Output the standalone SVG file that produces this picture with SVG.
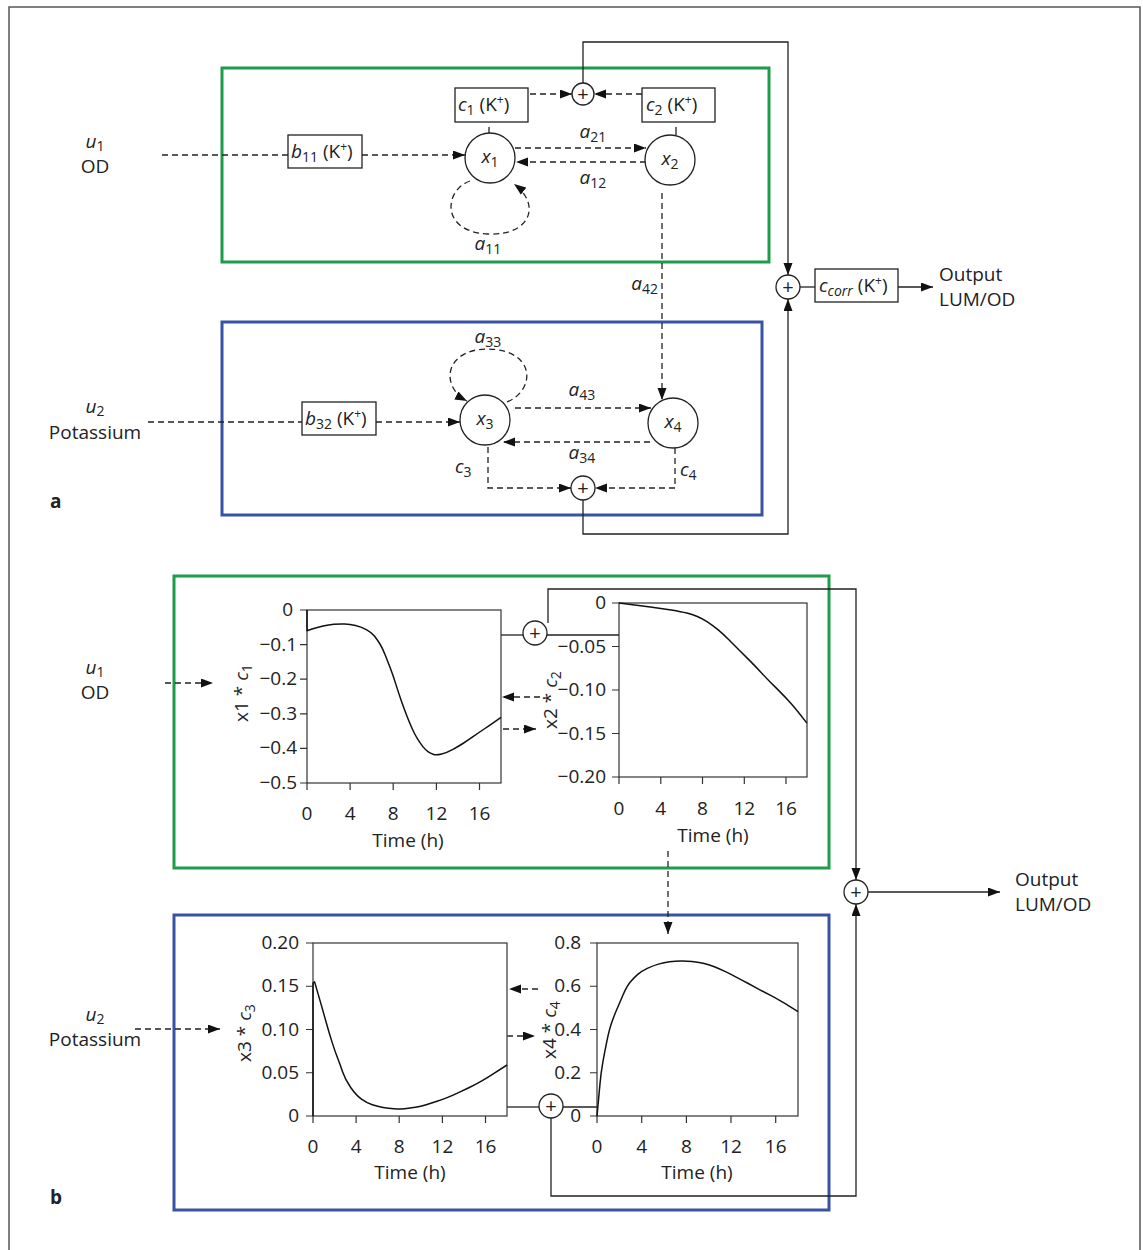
<svg xmlns="http://www.w3.org/2000/svg" width="1143" height="1250" viewBox="0 0 1143 1250">
<defs>
<marker id="ah" markerUnits="userSpaceOnUse" markerWidth="13" markerHeight="10" refX="12" refY="4.5" orient="auto">
<path d="M0,0 L12,4.5 L0,9 z" fill="#111"/>
</marker>
<style>
.t{font-family:"Open Sans","Noto Sans",sans-serif;font-size:19px;fill:#222}
.i{font-style:italic}
.s{font-size:14px}
.sup{font-size:12px}
.b{font-weight:bold}
.pl{font-size:20px}
.box{fill:#fff;stroke:#222;stroke-width:1.3}
.node{fill:#fff;stroke:#222;stroke-width:1.3}
.green{fill:none;stroke:#1e9b4b;stroke-width:3}
.blue{fill:none;stroke:#3853a4;stroke-width:3}
.dash{fill:none;stroke:#222;stroke-width:1.3;stroke-dasharray:6 4}
.solid{fill:none;stroke:#222;stroke-width:1.3}
.arr{marker-end:url(#ah)}
.ax{fill:none;stroke:#333;stroke-width:1.2}
.tk{stroke:#333;stroke-width:1.2}
.crv{fill:none;stroke:#111;stroke-width:1.5;stroke-linejoin:round}
.frame{fill:none;stroke:#555;stroke-width:1.5}
</style>
</defs>
<rect width="1143" height="1250" fill="#fff"/>
<path class="frame" d="M9,1250 V7 H1140 V1250"/>

<!-- ===== Part a ===== -->
<g id="panel-a-green"><rect class="green" x="222" y="68" width="547" height="194"/></g>
<g id="panel-a-blue"><rect class="blue" x="222" y="322" width="540" height="193"/></g>

<g id="connectors-a">
<line class="dash" x1="162" y1="155" x2="288" y2="155"/>
<line class="dash arr" x1="362" y1="155" x2="465" y2="155"/>
<line class="dash arr" x1="530" y1="94" x2="572" y2="94"/>
<line class="dash arr" x1="642" y1="94" x2="594" y2="94"/>
<line class="solid" x1="489" y1="127" x2="489" y2="133"/>
<line class="solid" x1="676" y1="127" x2="676" y2="135"/>
<line class="dash arr" x1="515" y1="148" x2="646" y2="148"/>
<line class="dash arr" x1="646" y1="162" x2="516" y2="162"/>
<path class="dash arr" d="M470,181 C444,190 440,232 488,234 C530,236 542,205 514,184"/>
<line class="dash arr" x1="662" y1="193" x2="662" y2="400"/>
<polyline class="solid arr" points="583,83 583,42 788,42 788,275"/>
<polyline class="solid arr" points="583,500 583,534 788,534 788,299"/>
<line class="solid" x1="800" y1="287" x2="815" y2="287"/>
<line class="solid arr" x1="898" y1="287" x2="933" y2="287"/>
<line class="dash" x1="148" y1="422" x2="302" y2="422"/>
<line class="dash arr" x1="376" y1="422" x2="460" y2="422"/>
<line class="dash arr" x1="515" y1="408" x2="651" y2="408"/>
<line class="dash arr" x1="650" y1="442" x2="503" y2="442"/>
<path class="dash arr" d="M507,402 C536,390 536,350 488,349 C444,349 440,387 467,401"/>
<polyline class="dash arr" points="488,447 488,488 571,488"/>
<polyline class="dash arr" points="675,448 675,488 595,488"/>
</g>

<g id="label-u1-a"><text class="t" x="95" y="148" text-anchor="middle"><tspan class="i">u</tspan><tspan class="s" dy="3">1</tspan></text><text class="t" x="95" y="173" text-anchor="middle">OD</text></g>
<g id="label-u2-a"><text class="t" x="95" y="413" text-anchor="middle"><tspan class="i">u</tspan><tspan class="s" dy="3">2</tspan></text><text class="t" x="95" y="439" text-anchor="middle">Potassium</text></g>

<g id="box-b11"><rect class="box" x="288" y="135" width="74" height="33"/><text class="t" x="291" y="158"><tspan class="i">b</tspan><tspan class="s" dy="4">11</tspan><tspan dy="-4"> (K</tspan><tspan class="sup" dy="-7">+</tspan><tspan dy="7">)</tspan></text></g>
<g id="box-c1"><rect class="box" x="455" y="88" width="73" height="34"/><text class="t" x="458" y="111"><tspan class="i">c</tspan><tspan class="s" dy="4">1</tspan><tspan dy="-4"> (K</tspan><tspan class="sup" dy="-7">+</tspan><tspan dy="7">)</tspan></text></g>
<g id="box-c2"><rect class="box" x="642" y="88" width="73" height="34"/><text class="t" x="646" y="111"><tspan class="i">c</tspan><tspan class="s" dy="4">2</tspan><tspan dy="-4"> (K</tspan><tspan class="sup" dy="-7">+</tspan><tspan dy="7">)</tspan></text></g>
<g id="sum-top"><circle class="node" cx="583" cy="94" r="11"/><text class="t pl" x="583" y="101" text-anchor="middle">+</text></g>
<g id="node-x1"><circle class="node" cx="490" cy="158" r="25"/><text class="t" x="490" y="163" text-anchor="middle"><tspan class="i">x</tspan><tspan class="s" dy="4">1</tspan></text></g>
<g id="node-x2"><circle class="node" cx="670" cy="160" r="25"/><text class="t" x="670" y="165" text-anchor="middle"><tspan class="i">x</tspan><tspan class="s" dy="4">2</tspan></text></g>
<g id="label-a21"><text class="t" x="593" y="138" text-anchor="middle"><tspan class="i">a</tspan><tspan class="s" dy="4">21</tspan></text></g>
<g id="label-a12"><text class="t" x="593" y="184" text-anchor="middle"><tspan class="i">a</tspan><tspan class="s" dy="4">12</tspan></text></g>
<g id="label-a11"><text class="t" x="488" y="250" text-anchor="middle"><tspan class="i">a</tspan><tspan class="s" dy="4">11</tspan></text></g>
<g id="label-a42"><text class="t" x="658" y="290" text-anchor="end"><tspan class="i">a</tspan><tspan class="s" dy="4">42</tspan></text></g>
<g id="sum-out-a"><circle class="node" cx="788" cy="287" r="12"/><text class="t pl" x="788" y="294" text-anchor="middle">+</text></g>
<g id="box-ccorr"><rect class="box" x="815" y="269" width="83" height="33"/><text class="t" x="819" y="292"><tspan class="i">c</tspan><tspan class="s i" dy="4">corr</tspan><tspan dy="-4"> (K</tspan><tspan class="sup" dy="-7">+</tspan><tspan dy="7">)</tspan></text></g>
<g id="output-a"><text class="t" x="939" y="281">Output</text><text class="t" x="939" y="306">LUM/OD</text></g>
<g id="box-b32"><rect class="box" x="302" y="402" width="74" height="33"/><text class="t" x="305" y="425"><tspan class="i">b</tspan><tspan class="s" dy="4">32</tspan><tspan dy="-4"> (K</tspan><tspan class="sup" dy="-7">+</tspan><tspan dy="7">)</tspan></text></g>
<g id="node-x3"><circle class="node" cx="485" cy="420" r="25"/><text class="t" x="485" y="425" text-anchor="middle"><tspan class="i">x</tspan><tspan class="s" dy="4">3</tspan></text></g>
<g id="node-x4"><circle class="node" cx="673" cy="423" r="25"/><text class="t" x="673" y="428" text-anchor="middle"><tspan class="i">x</tspan><tspan class="s" dy="4">4</tspan></text></g>
<g id="label-a33"><text class="t" x="488" y="343" text-anchor="middle"><tspan class="i">a</tspan><tspan class="s" dy="4">33</tspan></text></g>
<g id="label-a43"><text class="t" x="582" y="396" text-anchor="middle"><tspan class="i">a</tspan><tspan class="s" dy="4">43</tspan></text></g>
<g id="label-a34"><text class="t" x="582" y="459" text-anchor="middle"><tspan class="i">a</tspan><tspan class="s" dy="4">34</tspan></text></g>
<g id="label-c3"><text class="t" x="455" y="473"><tspan class="i">c</tspan><tspan class="s" dy="4">3</tspan></text></g>
<g id="label-c4"><text class="t" x="680" y="476"><tspan class="i">c</tspan><tspan class="s" dy="4">4</tspan></text></g>
<g id="sum-bottom-a"><circle class="node" cx="583" cy="488" r="12"/><text class="t pl" x="583" y="495" text-anchor="middle">+</text></g>
<text class="t b" x="50" y="508">a</text>

<!-- ===== Part b ===== -->
<g id="panel-b-green"><rect class="green" x="174" y="576" width="655" height="292"/></g>
<g id="panel-b-blue"><rect class="blue" x="174" y="915" width="655" height="295"/></g>

<g id="connectors-b">
<line class="dash arr" x1="165" y1="683" x2="213" y2="683"/>
<line class="solid" x1="501" y1="635" x2="523" y2="635"/>
<line class="solid" x1="547" y1="635" x2="619" y2="635"/>
<polyline class="solid arr" points="548,623 548,589 856,589 856,880"/>
<line class="dash arr" x1="540" y1="697" x2="502" y2="697"/>
<line class="dash arr" x1="503" y1="729" x2="536" y2="729"/>
<line class="dash arr" x1="668" y1="851" x2="668" y2="934"/>
<line class="dash arr" x1="135" y1="1029" x2="220" y2="1029"/>
<line class="dash arr" x1="538" y1="989" x2="509" y2="989"/>
<line class="dash arr" x1="507" y1="1036" x2="535" y2="1036"/>
<line class="solid" x1="507" y1="1107" x2="539" y2="1107"/>
<line class="solid" x1="563" y1="1107" x2="597" y2="1107"/>
<polyline class="solid arr" points="551,1118 551,1196 856,1196 856,904"/>
<line class="solid arr" x1="868" y1="892" x2="1000" y2="892"/>
</g>

<g id="label-u1-b"><text class="t" x="95" y="674" text-anchor="middle"><tspan class="i">u</tspan><tspan class="s" dy="3">1</tspan></text><text class="t" x="95" y="699" text-anchor="middle">OD</text></g>
<g id="label-u2-b"><text class="t" x="95" y="1021" text-anchor="middle"><tspan class="i">u</tspan><tspan class="s" dy="3">2</tspan></text><text class="t" x="95" y="1046" text-anchor="middle">Potassium</text></g>

<g id="plot-x1c1">
<rect class="ax" x="307" y="610" width="194" height="173"/>
<path class="tk" d="M300,610H307M300,644.6H307M300,679.2H307M300,713.8H307M300,748.4H307M300,783H307M307,783V790M350.1,783V790M393.2,783V790M436.4,783V790M479.5,783V790"/>
<g class="t" text-anchor="end">
<text x="293" y="616">0</text><text x="297" y="650.6">−0.1</text><text x="297" y="685.2">−0.2</text><text x="297" y="719.8">−0.3</text><text x="297" y="754.4">−0.4</text><text x="297" y="789">−0.5</text>
</g>
<g class="t" text-anchor="middle">
<text x="307" y="820">0</text><text x="350.1" y="820">4</text><text x="393.2" y="820">8</text><text x="436.4" y="820">12</text><text x="479.5" y="820">16</text>
<text x="408" y="847">Time (h)</text>
<text transform="translate(248,693) rotate(-90)">x1 * <tspan class="i">c</tspan><tspan class="s" dy="4">1</tspan></text>
</g>
<path class="crv" d="M307,610 L307,630.8 Q317.8,627.3 323.2,626.1 Q328.6,624.9 333.95,624.35 Q339.3,623.8 344.7,624 Q350.1,624.2 355.5,625.4 Q360.9,626.6 366.3,629.55 Q371.7,632.5 374.4,635.95 Q377.1,639.4 379.8,643.75 Q382.5,648.1 385.2,655 Q387.9,661.9 390.55,668.8 Q393.2,675.7 395.9,684.35 Q398.6,693 401.3,700.8 Q404,708.6 406.7,715.55 Q409.4,722.5 412.1,728.55 Q414.8,734.6 417.5,738.9 Q420.2,743.2 422.9,746.65 Q425.6,750.1 428.3,751.85 Q431,753.6 433.7,754.45 Q436.4,755.3 441.75,753.95 Q447.1,752.6 452.5,749.65 Q457.9,746.7 463.3,743.25 Q468.7,739.8 474.1,735.95 Q479.5,732.1 484.9,728.5 Q490.3,724.9 501,717.3"/>
</g>

<g id="plot-x2c2">
<rect class="ax" x="619" y="603" width="188" height="174"/>
<path class="tk" d="M612,603H619M612,646.5H619M612,690H619M612,733.5H619M612,777H619M619,777V784M660.8,777V784M702.5,777V784M744.3,777V784M786,777V784"/>
<g class="t" text-anchor="end">
<text x="606" y="609">0</text><text x="606" y="652.5">−0.05</text><text x="606" y="696">−0.10</text><text x="606" y="739.5">−0.15</text><text x="606" y="783">−0.20</text>
</g>
<g class="t" text-anchor="middle">
<text x="619" y="815">0</text><text x="660.8" y="815">4</text><text x="702.5" y="815">8</text><text x="744.3" y="815">12</text><text x="786" y="815">16</text>
<text x="713" y="842">Time (h)</text>
<text transform="translate(557,700) rotate(-90)">x2 * <tspan class="i">c</tspan><tspan class="s" dy="4">2</tspan></text>
</g>
<path class="crv" d="M619,603 Q639.9,605.6 650.35,606.9 Q660.8,608.2 671.2,609.95 Q681.6,611.7 686.85,613 Q692.1,614.3 697.3,616.5 Q702.5,618.7 707.75,622.15 Q713,625.6 718.2,629.95 Q723.4,634.3 728.6,639.55 Q733.8,644.8 739.05,650 Q744.3,655.2 749.5,660.4 Q754.7,665.6 759.95,671.3 Q765.2,677 770.4,682.2 Q775.6,687.4 780.8,692.6 Q786,697.8 791.25,703.65 Q796.5,709.5 806.9,723.1"/>
</g>

<g id="sum-b-top"><circle class="node" cx="535" cy="633" r="12"/><text class="t pl" x="535" y="640" text-anchor="middle">+</text></g>
<g id="sum-b-out"><circle class="node" cx="856" cy="892" r="12"/><text class="t pl" x="856" y="899" text-anchor="middle">+</text></g>
<g id="output-b"><text class="t" x="1015" y="886">Output</text><text class="t" x="1015" y="911">LUM/OD</text></g>

<g id="plot-x3c3">
<rect class="ax" x="313" y="943" width="194" height="173"/>
<path class="tk" d="M306,943H313M306,986.25H313M306,1029.5H313M306,1072.75H313M306,1116H313M313,1116V1123M356.1,1116V1123M399.2,1116V1123M442.4,1116V1123M485.5,1116V1123"/>
<g class="t" text-anchor="end">
<text x="299" y="949">0.20</text><text x="299" y="992.25">0.15</text><text x="299" y="1035.5">0.10</text><text x="299" y="1078.75">0.05</text><text x="299" y="1122">0</text>
</g>
<g class="t" text-anchor="middle">
<text x="313" y="1153">0</text><text x="356.1" y="1153">4</text><text x="399.2" y="1153">8</text><text x="442.4" y="1153">12</text><text x="485.5" y="1153">16</text>
<text x="410" y="1179">Time (h)</text>
<text transform="translate(251,1033) rotate(-90)">x3 * <tspan class="i">c</tspan><tspan class="s" dy="4">3</tspan></text>
</g>
<path class="crv" d="M313,1116 L313,983 L314.6,981.9 Q318.4,994.9 321.1,1004.4 Q323.8,1013.9 326.5,1023.45 Q329.2,1033 331.9,1041.65 Q334.6,1050.3 337.3,1057.2 Q340,1064.1 342.65,1071.9 Q345.3,1079.7 350.7,1087.45 Q356.1,1095.2 361.5,1099.1 Q366.9,1103 372.3,1104.75 Q377.7,1106.5 383.1,1107.55 Q388.5,1108.6 393.85,1108.85 Q399.2,1109.1 404.6,1108.65 Q410,1108.2 415.4,1107.35 Q420.8,1106.5 426.2,1104.75 Q431.6,1103 437,1101.3 Q442.4,1099.6 447.75,1097.4 Q453.1,1095.2 458.5,1092.6 Q463.9,1090 469.3,1087.45 Q474.7,1084.9 480.1,1081.85 Q485.5,1078.8 490.9,1075.35 Q496.3,1071.9 507,1065"/>
</g>

<g id="plot-x4c4">
<rect class="ax" x="597" y="943" width="201" height="173"/>
<path class="tk" d="M590,943H597M590,986.25H597M590,1029.5H597M590,1072.75H597M590,1116H597M597,1116V1123M641.7,1116V1123M686.4,1116V1123M731,1116V1123M775.7,1116V1123"/>
<g class="t" text-anchor="end">
<text x="581" y="949">0.8</text><text x="581" y="992.25">0.6</text><text x="581" y="1035.5">0.4</text><text x="581" y="1078.75">0.2</text><text x="581" y="1122">0</text>
</g>
<g class="t" text-anchor="middle">
<text x="597" y="1153">0</text><text x="641.7" y="1153">4</text><text x="686.4" y="1153">8</text><text x="731" y="1153">12</text><text x="775.7" y="1153">16</text>
<text x="697" y="1179">Time (h)</text>
<text transform="translate(556,1030) rotate(-90)">x4 * <tspan class="i">c</tspan><tspan class="s" dy="4">4</tspan></text>
</g>
<path class="crv" d="M597,1116 Q599,1094.4 600,1083.6 Q601,1072.8 602.9,1061.95 Q604.8,1051.1 607.05,1040.3 Q609.3,1029.5 611.55,1023 Q613.8,1016.5 616.55,1010.05 Q619.3,1003.6 623,994.95 Q626.7,986.3 630.3,981.95 Q633.9,977.6 637.8,974.35 Q641.7,971.1 647.3,968.4 Q652.9,965.7 658.45,964.1 Q664,962.5 669.6,961.85 Q675.2,961.2 680.8,961.1 Q686.4,961 691.95,961.5 Q697.5,962 703.1,963.3 Q708.7,964.6 714.3,966.8 Q719.9,969 725.45,971.7 Q731,974.4 736.6,977.3 Q742.2,980.2 747.8,983.25 Q753.4,986.3 759,989.3 Q764.6,992.3 770.15,995.2 Q775.7,998.1 781.3,1001.35 Q786.9,1004.6 798,1011.6"/>
</g>

<g id="sum-b-bottom"><circle class="node" cx="551" cy="1106" r="12"/><text class="t pl" x="551" y="1113" text-anchor="middle">+</text></g>
<text class="t b" x="50" y="1204">b</text>
</svg>
